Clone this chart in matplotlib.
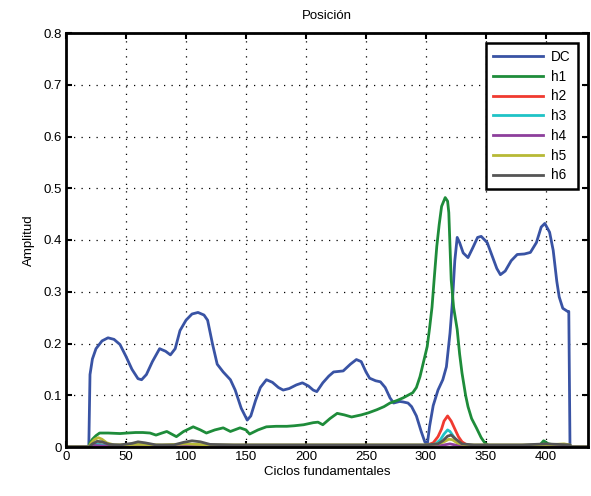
import matplotlib
matplotlib.use("Agg")
import matplotlib.pyplot as plt

plt.rcParams["font.family"] = ["Liberation Sans", "DejaVu Sans"]

# componente continua
x_dc = [0, 19, 20, 22, 25, 30, 35, 40, 45, 50, 55, 60, 63, 67, 72, 78, 83, 87, 91, 95,
        100, 105, 110, 115, 118, 122, 126, 131, 137, 141, 146, 151, 154, 158, 162, 167,
        172, 177, 181, 186, 192, 197, 202, 206, 209, 214, 219, 223, 231, 237, 242, 246,
        250, 253, 258, 262, 266, 270, 273, 278, 281, 285, 288, 292, 296, 299, 301, 303,
        306, 310, 314, 317, 320, 322, 324, 326, 328, 331, 335, 339, 343, 346, 351, 355,
        359, 362, 366, 371, 376, 382, 387, 392, 396, 399, 403, 406, 409, 411, 414, 418,
        419, 420, 435]
y_dc = [0, 0, 0.14, 0.17, 0.19, 0.205, 0.211, 0.208, 0.198, 0.175, 0.15, 0.132, 0.13,
        0.14, 0.165, 0.19, 0.185, 0.178, 0.19, 0.225, 0.245, 0.257, 0.26, 0.255, 0.245,
        0.2, 0.16, 0.145, 0.13, 0.11, 0.075, 0.052, 0.06, 0.09, 0.115, 0.13, 0.125, 0.115,
        0.11, 0.113, 0.12, 0.124, 0.118, 0.11, 0.107, 0.124, 0.137, 0.145, 0.147, 0.16,
        0.169, 0.165, 0.145, 0.133, 0.128, 0.126, 0.115, 0.095, 0.085, 0.088, 0.087,
        0.085, 0.078, 0.06, 0.03, 0.01, 0.004, 0.04, 0.08, 0.11, 0.13, 0.155, 0.22, 0.28,
        0.36, 0.405, 0.395, 0.375, 0.366, 0.385, 0.405, 0.407, 0.395, 0.37, 0.345, 0.333,
        0.34, 0.36, 0.372, 0.373, 0.376, 0.395, 0.425, 0.432, 0.415, 0.38, 0.32, 0.29,
        0.268, 0.262, 0.262, 0.0, 0.0]

# primer armonico
x_h1 = [0, 19, 20, 22, 25, 28, 35, 45, 51, 58, 64, 70, 75, 80, 84, 88, 92, 98, 106, 112,
        117, 124, 131, 137, 145, 150, 153, 160, 167, 175, 184, 190, 198, 206, 210, 214,
        220, 226, 232, 238, 246, 252, 259, 265, 270, 276, 281, 285, 289, 292, 295, 298,
        301, 303, 305, 307, 309, 311, 313, 316, 318, 319, 321, 323, 326, 328, 330, 333,
        335, 338, 342, 346, 349, 352, 360, 380, 395, 398, 402, 410, 420, 421, 435]
y_h1 = [0, 0, 0.008, 0.015, 0.022, 0.027, 0.027, 0.026, 0.027, 0.028, 0.028, 0.027,
        0.023, 0.027, 0.03, 0.025, 0.02, 0.03, 0.039, 0.033, 0.027, 0.033, 0.037, 0.03,
        0.037, 0.033, 0.025, 0.033, 0.039, 0.04, 0.04, 0.041, 0.043, 0.047, 0.048, 0.043,
        0.055, 0.065, 0.062, 0.058, 0.062, 0.066, 0.072, 0.078, 0.085, 0.09, 0.095,
        0.1, 0.105, 0.115, 0.136, 0.165, 0.194, 0.23, 0.27, 0.33, 0.388, 0.43, 0.465,
        0.482, 0.475, 0.453, 0.323, 0.27, 0.227, 0.18, 0.143, 0.1, 0.078, 0.055, 0.037,
        0.018, 0.008, 0.003, 0.003, 0.003, 0.004, 0.012, 0.006, 0.003, 0.003, 0.0, 0.0]

# armonicos de orden superior
x_h2 = [0, 19, 22, 26, 30, 35, 40, 60, 100, 150, 200, 250, 300, 306, 310, 313, 315, 318,
        321, 324, 327, 330, 334, 340, 400, 420, 421, 435]
y_h2 = [0, 0, 0.004, 0.006, 0.004, 0.001, 0.002, 0.002, 0.003, 0.002, 0.002, 0.002,
        0.003, 0.008, 0.02, 0.035, 0.05, 0.06, 0.05, 0.035, 0.02, 0.01, 0.004, 0.002,
        0.002, 0.002, 0, 0]

x_h3 = [0, 19, 22, 26, 30, 35, 60, 100, 150, 200, 250, 300, 308, 312, 315, 318, 320,
        323, 326, 330, 336, 400, 420, 421, 435]
y_h3 = [0, 0, 0.003, 0.005, 0.004, 0.002, 0.001, 0.002, 0.001, 0.001, 0.001, 0.002,
        0.006, 0.014, 0.025, 0.033, 0.03, 0.02, 0.01, 0.004, 0.002, 0.001, 0.001, 0, 0]

x_h4 = [0, 19, 24, 30, 100, 200, 300, 315, 320, 326, 340, 420, 421, 435]
y_h4 = [0, 0, 0.003, 0.002, 0.002, 0.002, 0.002, 0.004, 0.006, 0.003, 0.002, 0.002, 0, 0]

x_h5 = [0, 19, 21, 24, 27, 30, 34, 40, 60, 80, 100, 120, 150, 200, 250, 300, 310, 315,
        319, 322, 326, 332, 360, 400, 415, 420, 421, 435]
y_h5 = [0, 0, 0.008, 0.015, 0.018, 0.015, 0.008, 0.004, 0.005, 0.004, 0.006, 0.004,
        0.004, 0.004, 0.004, 0.004, 0.006, 0.01, 0.015, 0.014, 0.008, 0.004, 0.004,
        0.004, 0.006, 0.004, 0, 0]

x_h6 = [0, 19, 22, 26, 30, 36, 45, 55, 60, 66, 75, 90, 98, 105, 112, 120, 140, 160, 200,
        250, 300, 310, 314, 318, 321, 325, 330, 340, 380, 400, 420, 421, 435]
y_h6 = [0, 0, 0.006, 0.011, 0.01, 0.005, 0.004, 0.007, 0.01, 0.008, 0.004, 0.004,
        0.009, 0.012, 0.01, 0.005, 0.004, 0.004, 0.004, 0.004, 0.004, 0.006, 0.012,
        0.021, 0.023, 0.015, 0.006, 0.004, 0.004, 0.006, 0.004, 0, 0]

series = [
    ("DC", x_dc, y_dc, "#3953a4"),
    ("h1", x_h1, y_h1, "#1e8c3a"),
    ("h2", x_h2, y_h2, "#f03a30"),
    ("h3", x_h3, y_h3, "#1fc3c6"),
    ("h4", x_h4, y_h4, "#8d3f9c"),
    ("h5", x_h5, y_h5, "#b7b935"),
    ("h6", x_h6, y_h6, "#555555"),
]

fig = plt.figure(figsize=(5.91, 4.96), dpi=100)
ax = fig.add_axes([66 / 591, 1 - 447 / 496, (588 - 66) / 591, (447 - 33) / 496])

for name, xs, ys, col in series:
    ax.plot(xs, ys, color=col, linewidth=2, label=name)

ax.set_xlim(0, 435)
ax.set_ylim(0, 0.8)
ax.set_xticks(range(0, 401, 50))
ax.set_yticks([0, 0.1, 0.2, 0.3, 0.4, 0.5, 0.6, 0.7, 0.8])
ax.set_yticklabels(["0", "0.1", "0.2", "0.3", "0.4", "0.5", "0.6", "0.7", "0.8"])
ax.grid(True, color="k", linestyle=(0, (1, 5)), linewidth=0.9)
ax.tick_params(direction="in", top=True, right=True, length=4, width=1.5,
               labelsize=9.5, pad=3)
for sp in ax.spines.values():
    sp.set_linewidth(2)

ax.set_title("Posición", fontsize=9.5, pad=10)
ax.set_xlabel("Ciclos fundamentales", fontsize=9.5, labelpad=2)
ax.set_ylabel("Amplitud", fontsize=9.5, labelpad=6)

leg = ax.legend(loc="upper right", fontsize=9.8, handlelength=3.7, borderaxespad=0.75,
                borderpad=0.5, fancybox=False, framealpha=1, edgecolor="k",
                labelspacing=0.42, handletextpad=0.6)
leg.get_frame().set_linewidth(1.8)

plt.savefig("out.png", dpi=100)
